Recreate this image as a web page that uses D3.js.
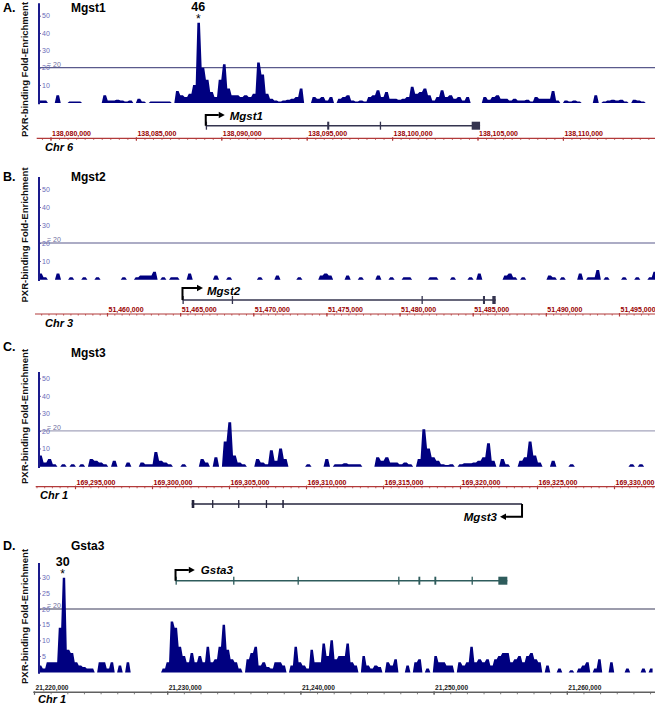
<!DOCTYPE html>
<html><head><meta charset="utf-8">
<script src="https://cdn.jsdelivr.net/npm/d3@7"></script>
<style>body{margin:0;background:#fff}svg{display:block}text{font-family:"Liberation Sans",Arial,sans-serif}</style>
</head><body>
<svg id="c" width="655" height="705"></svg>
<script>
// ---------------- DATA ----------------
const panelLetters = ["A.", "B.", "C.", "D."];
const geneNames = ["Mgst1", "Mgst2", "Mgst3", "Gsta3"];
const chromosomes = ["Chr 6", "Chr 3", "Chr 1", "Chr 1"];
const yAxisTitle = "PXR-binding Fold-Enrichment";

// x tick labels (genomic coordinates)
const ticksA = [138080000, 138085000, 138090000, 138095000, 138100000, 138105000, 138110000];
const ticksB = [51460000, 51465000, 51470000, 51475000, 51480000, 51485000, 51490000, 51495000];
const ticksC = [169295000, 169300000, 169305000, 169310000, 169315000, 169320000, 169325000, 169330000];
const ticksD = [21220000, 21230000, 21240000, 21250000, 21260000];

// y tick labels
const yTicksABC = [10, 20, 30, 40, 50];
const yTicksD = [5, 10, 15, 20, 25, 30];
const threshold = 20;

// signal: fold-enrichment per bin, starting at binStart with binWidth bp
const binStart = [138079300, 51455300, 169292600, 21220300];
const binWidth = [250, 300, 300, 300];
const signalA = [1,1,0,0,4,0,0,0.5,0.5,0.5,0,0,0,0,0,4,1,1,1.5,1,0.5,1,0,2,0.5,0,0.5,0.5,0.5,0.5,
 0.5,0,6.5,4,3,5,10,46,20,13,6,3,13,22,8,4,4,3,4,3,5,23,16,5,2,1,0.5,1,1.5,2,
 3,8,0,0,3,2,3,1,3,0,2,3,4,1,0.5,1,0.5,3,4,7,3,6,2,2,1.5,2,3,9,5,6,
 8,4,1,3,7,3,4,2,3,1,3,0,0,0,3,1.5,3,4,2,2,1,2,1,1,1.5,0.5,3,2,2,2,
 6.5,1,0,1,0.5,1,0.5,0,0,0,4,0,0.5,1,1.5,1,1.5,0.5,0,1.5,1,0.5,0,0];
const signalB = [3,1,0,0,3,0,0,1,0,0,1,0,0,1,0,0,0,0,0,1,0,0,1,2,2,2,4,0,1,0,
 1,1,0,0,3,0,0,0,0,0,2,0,0,1,0,0,0,0,0,0,1,0,0,0,2,0,0,0,0,1,
 0,0,0,0,2,3,2,0,0,0,2,0,0,1,0,0,0,2,0,0,1,0,0,1,1,0,0,0,0,1,
 1,0,0,0,1,0,0,0,1,0,3,0,0,0,0,0,2,3,1,0,1,0,0,0,0,0,2,1,0,1,
 0,0,0,3,0,1,1,5,0,1,0,0,0,1,0,0,1,0,0,1,4];
const signalC = [6,2,4,1,0,1,0,1,0,1,0,4,3,2,1,0,3,0,0,2,0,0,2,1,1,8,3,2,1,0,
 0,1,0,0,0,4,2,0,5,0,14,25,6,2,1,0,0,4,2,1,9,3,10,4,0,0,0,0,1,0,
 0,0,4,0,1,1,1.5,1,1,1,0,0,0,5,3,5,2,2,1,2,1,0,4,21,10,5,3,1,0.5,1,
 0,1,1.5,1.5,2,3,5,13,3,0,4,1,0,0,3,5,14,6,2,0,0,3,0,0,0,1,0,0,0,0,
 0,0,0,0,0,0,0,0,1,0,1,0,0,0];
const signalD = [2,1,3,3,3,14,30,7,6,3,2,1.5,1,1,0,3,3,1,3,0,2,0,3,0,0,0,0,0,0,0,
 0,1,3,16,14,8,5,3,6,3,5,3,8,3,4,8,15,7,4,3,1,0,4,6,8,2,3,1.5,1,3,
 3,2,0,2,8,3,2,1,7,3,3,9,5,10,4,5,5,9,3,2,0,5,2,1,2,1.5,0,3,2,4,
 0,0,2,0,3,4,0,1,0,5,3,3,2,2,0,3,2,3,8,3,4,3,4,2,4,5,6,6,3,4,
 5,3,5,6,4,3,0,2,0,0,1,0,0,0.5,0,1,2,3,0,1,4,0,0,3,0,0,0,1,0,0,
 0,1,0,1];

// gene models: [txStart, txEnd], exons [start, end]
const geneA = [138089090, 138105150];
const exonsA = [[138089090,138089120],[138096200,138096320],[138099280,138099320],[138104660,138105150]];
const geneB = [51465160, 51486570];
const exonsB = [[51465160,51465190],[51468530,51468560],[51481500,51481530],[51485700,51485840],[51486340,51486570]];
const geneC = [169302578, 169324028];
const exonsC = [[169302578,169302747],[169303900,169303930],[169305590,169305620],[169307390,169307420],[169308460,169308560]];
const geneD = [21230625, 21255536];
const exonsD = [[21230625,21230655],[21234950,21234980],[21239785,21239815],[21247340,21247370],[21248860,21249000],[21250060,21250200],[21252850,21252880],[21254860,21255536]];
const strands = [1, 1, -1, 1];

// annotated peaks
const peakLabels = [{panel: 0, pos: 138088654, text: "46"}, {panel: 3, pos: 21222155, text: "30"}];

// ---------------- LAYOUT ----------------
const layout = [
  {t0:138080000,t1:138110000,x0:50.5,x1:562.9,yMax:50,yB:102.3,yT:15.7,axTop:3.3,letterY:12,titleY2:12,
   thr:"#5a5a8c",axisY:138.3,axX0:36.7,chrX:45,chrY:151,geneY:125.7,rise:-10.7,arm:19,nameDx:24,nameDy:-6.2,
   gc:"#34344f",ytY:69.5,red:true},
  {t0:51460000,t1:51495000,x0:107,x1:619,yMax:50,yB:279,yT:189,axTop:177,letterY:181,titleY2:181,
   thr:"#5a5a8c",axisY:314,axX0:35,chrX:45,chrY:326.5,geneY:300,rise:-12,arm:20.5,nameDx:24.5,nameDy:-5,
   gc:"#34344f",ytY:235,red:true},
  {t0:169295000,t1:169330000,x0:75,x1:614,yMax:50,yB:466,yT:378.3,axTop:372,letterY:350.5,titleY2:357,
   thr:"#a4a4bc",axisY:486.7,axX0:35.7,chrX:40,chrY:499,geneY:504,rise:12.7,arm:22,nameDx:-25,nameDy:16.7,
   gc:"#24243c",ytY:416.5,red:true},
  {t0:21220000,t1:21260000,x0:34,x1:566.8,yMax:30,yB:671.7,yT:577.7,axTop:563,letterY:550,titleY2:549.5,
   thr:"#3a3a5a",axisY:692.3,axX0:33.3,chrX:38,chrY:703,geneY:580.7,rise:-10.7,arm:19.3,nameDx:25.3,nameDy:-7.2,
   gc:"#2e5c5c",ytY:616.5,red:false}
];
const signals = [signalA, signalB, signalC, signalD];
const xTicks = [ticksA, ticksB, ticksC, ticksD];
const genes = [geneA, geneB, geneC, geneD];
const exons = [exonsA, exonsB, exonsC, exonsD];
const minorStep = [500, 500, 500, 1250];

const svg = d3.select("#c");
const fmt = d3.format(",");

layout.forEach((L, p) => {
  const g = svg.append("g");
  const x = d3.scaleLinear().domain([L.t0, L.t1]).range([L.x0, L.x1]);
  const y = d3.scaleLinear().domain([0, L.yMax]).range([L.yB, L.yT]);

  // letters / titles
  g.append("text").attr("x", 3).attr("y", L.letterY).attr("font-size", 12.5).attr("font-weight", "bold").text(panelLetters[p]);
  g.append("text").attr("x", 71).attr("y", L.titleY2).attr("font-size", 12).attr("font-weight", "bold").text(geneNames[p]);

  // y axis title
  g.append("text").attr("transform", `translate(28,${L.ytY}) rotate(-90)`).attr("text-anchor", "middle")
    .attr("font-size", 9.5).attr("font-weight", "bold").attr("fill", "#111").text(yAxisTitle);

  // threshold line
  g.append("line").attr("x1", 39).attr("x2", 655).attr("y1", y(threshold)).attr("y2", y(threshold))
    .attr("stroke", L.thr).attr("stroke-width", 1.1);

  // signal (histogram with slightly sloped sides)
  const bw = binWidth[p];
  const pts = [];
  signals[p].forEach((v, i) => {
    const s = binStart[p] + i * bw;
    pts.push({pos: s + 0.2 * bw, v}, {pos: s + 0.8 * bw, v});
  });
  const area = d3.area().x(d => x(d.pos)).y0(y(0) + 0.8).y1(d => d.v > 0 ? y(d.v) : y(0) + 0.8).curve(d3.curveLinear);
  g.append("path").attr("d", area(pts)).attr("fill", "#000080");

  // threshold label
  g.append("text").attr("x", 47).attr("y", y(threshold) - 0.6).attr("font-size", 7).attr("fill", "#7070a0").text("= 20");

  // y axis
  const ya = g.append("g").attr("transform", "translate(39,0)")
    .call(d3.axisRight(y).tickValues(p === 3 ? yTicksD : yTicksABC).tickSize(2).tickPadding(1).tickSizeOuter(0));
  ya.select(".domain").remove();
  ya.selectAll("line").attr("stroke", "#6a6ab8");
  ya.selectAll("text").attr("font-size", 7).attr("fill", "#6a6ab8").attr("font-family", "Liberation Sans, Arial, sans-serif");
  g.append("line").attr("x1", 39).attr("x2", 39).attr("y1", L.axTop).attr("y2", L.yB + 2)
    .attr("stroke", "#1a1a8c").attr("stroke-width", 2);

  // x axis
  const axC = L.red ? "#b23a3a" : "#606060";
  g.append("line").attr("x1", L.axX0).attr("x2", 655).attr("y1", L.axisY).attr("y2", L.axisY)
    .attr("stroke", axC).attr("stroke-width", L.red ? 1.2 : 1.6);
  const lo = x.invert(L.axX0), hi = x.invert(655);
  const ms = minorStep[p];
  const minors = d3.range(Math.ceil(lo / ms) * ms, hi, ms);
  const mi = g.append("g").attr("transform", `translate(0,${L.axisY})`)
    .call(d3.axisBottom(x).tickValues(minors).tickSize(L.red ? 1.6 : 2).tickFormat("").tickSizeOuter(0));
  mi.select(".domain").remove();
  mi.selectAll("line").attr("stroke", axC).attr("stroke-width", 0.8);
  const ma = g.append("g").attr("transform", `translate(0,${L.axisY - 1})`)
    .call(d3.axisBottom(x).tickValues(xTicks[p]).tickSize(3.5).tickFormat(fmt).tickSizeOuter(0));
  ma.select(".domain").remove();
  ma.selectAll("line").attr("stroke", axC).attr("stroke-width", 1.2);
  ma.selectAll("text").attr("text-anchor", "start").attr("x", 1).attr("y", -1.2).attr("dy", 0)
    .attr("font-size", L.red ? 7 : 6.6).attr("font-weight", "bold")
    .attr("font-family", L.red ? "Liberation Sans, Arial, sans-serif" : "DejaVu Sans Mono, monospace")
    .attr("fill", L.red ? "#990000" : "#222");

  // chromosome label
  g.append("text").attr("x", L.chrX).attr("y", L.chrY).attr("font-size", 11).attr("font-weight", "bold")
    .attr("font-style", "italic").text(chromosomes[p]);

  // gene model
  const [gs, ge] = genes[p];
  g.append("line").attr("x1", x(gs)).attr("x2", x(ge)).attr("y1", L.geneY).attr("y2", L.geneY)
    .attr("stroke", L.gc).attr("stroke-width", 1.5);
  g.append("g").selectAll("rect").data(exons[p]).join("rect")
    .attr("x", d => x(d[0])).attr("width", d => Math.max(1.3, x(d[1]) - x(d[0])))
    .attr("y", L.geneY - 4).attr("height", 8).attr("fill", L.gc);
  // TSS arrow
  const dir = strands[p];
  const tx = dir > 0 ? x(gs) : x(ge);
  const ay = L.geneY + L.rise;
  const headL = 6;
  g.append("path").attr("d", `M${tx},${L.geneY}V${ay}H${tx + dir * (L.arm - headL)}`)
    .attr("fill", "none").attr("stroke", "#000").attr("stroke-width", 2);
  g.append("path").attr("d", `M${tx + dir * (L.arm - headL)},${ay - 3.2}L${tx + dir * L.arm},${ay}L${tx + dir * (L.arm - headL)},${ay + 3.2}Z`)
    .attr("fill", "#000");
  g.append("text").attr("x", tx + L.nameDx).attr("y", L.geneY + L.nameDy)
    .attr("text-anchor", dir > 0 ? "start" : "end")
    .attr("font-size", 11.5).attr("font-weight", "bold").attr("font-style", "italic").text(geneNames[p]);

  // peak annotations
  peakLabels.filter(d => d.panel === p).forEach(d => {
    const px = x(d.pos);
    const top = y(signals[p][Math.floor((d.pos - binStart[p]) / bw)]);
    g.append("text").attr("x", px).attr("y", top - 12).attr("text-anchor", "middle")
      .attr("font-size", 12.5).attr("font-weight", "bold").text(d.text);
    g.append("text").attr("x", px).attr("y", top + 0.5).attr("text-anchor", "middle")
      .attr("font-size", 12).text("*");
  });
});
</script>
</body></html>
